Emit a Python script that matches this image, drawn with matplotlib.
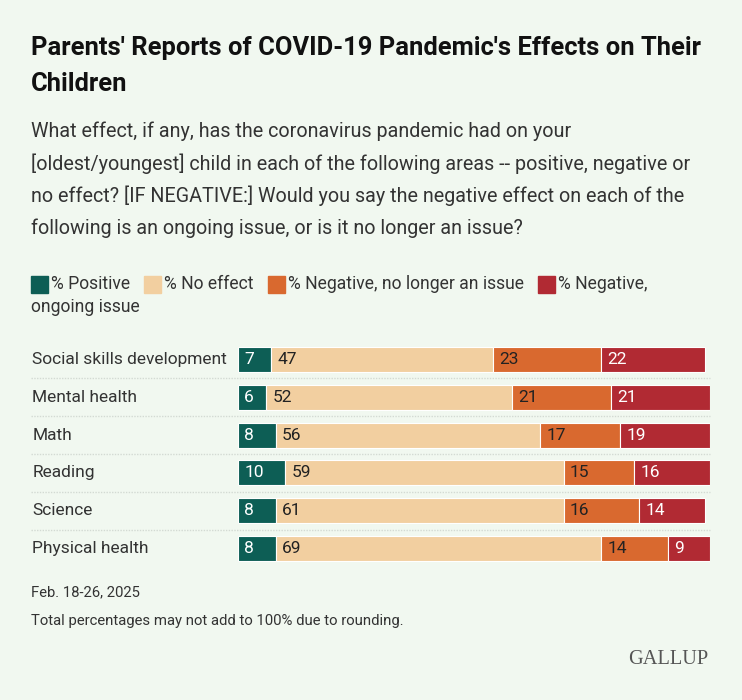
import matplotlib
matplotlib.use("Agg")
import matplotlib.pyplot as plt
from matplotlib.patches import Rectangle

# data
categories = ["Social skills development", "Mental health", "Math",
              "Reading", "Science", "Physical health"]
positive = [7, 6, 8, 10, 8, 8]
no_effect = [47, 52, 56, 59, 61, 69]
neg_past = [23, 21, 17, 15, 16, 14]
neg_ongoing = [22, 21, 19, 16, 14, 9]

series = [positive, no_effect, neg_past, neg_ongoing]
series_names = ["% Positive", "% No effect", "% Negative, no longer an issue",
                "% Negative,"]
colors = ["#0d5e55", "#f2cfa0", "#d9692f", "#b12a33"]
text_colors = ["white", "#222222", "#222222", "white"]

BG = "#f1f8f0"
W, H = 742, 700
plt.rcParams['font.family'] = ['Roboto', 'DejaVu Sans']

fig = plt.figure(figsize=(W / 100, H / 100), dpi=100, facecolor=BG)
renderer = fig.canvas.get_renderer()


def fx(px):
    return px / W


def fy(py):
    return 1 - py / H


def fit(t, target_w):
    # scale font so the text gets the width it has in the reference
    w = t.get_window_extent(renderer).width
    t.set_fontsize(t.get_fontsize() * target_w / w)
    return t.get_fontsize()


# title + subtitle
t = fig.text(fx(31), fy(48), "Parents' Reports of COVID-19 Pandemic's Effects on Their",
             fontsize=18, fontweight='bold', color='#111111', va='center')
title_size = fit(t, 699 - 31)
fig.text(fx(31), fy(84), "Children", fontsize=title_size, fontweight='bold',
         color='#111111', va='center')

subtitle = ["What effect, if any, has the coronavirus pandemic had on your",
            "[oldest/youngest] child in each of the following areas -- positive, negative or",
            "no effect? [IF NEGATIVE:] Would you say the negative effect on each of the",
            "following is an ongoing issue, or is it no longer an issue?"]
t = fig.text(0, 0, subtitle[1], fontsize=14)
sub_size = fit(t, 695 - 31)
t.remove()
for i, line in enumerate(subtitle):
    fig.text(fx(31), fy(131 + i * 32.3), line, fontsize=sub_size, color='#333333',
             va='center')

# legend
t = fig.text(0, 0, series_names[2], fontsize=12)
leg_size = fit(t, 524 - 288)
t.remove()
leg_x = [31, 144, 268, 538]
for i, name in enumerate(series_names):
    x0 = leg_x[i]
    fig.patches.append(Rectangle((fx(x0), fy(293)), fx(17), 17 / H,
                                 transform=fig.transFigure, color=colors[i]))
    fig.text(fx(x0 + 20), fy(284), name, fontsize=leg_size, color='#333333',
             va='center')
fig.text(fx(31), fy(307), "ongoing issue", fontsize=leg_size, color='#333333',
         va='center')

# bars
top, bottom = 340.6, 567.4
ax = fig.add_axes([fx(238), fy(bottom), fx(710) - fx(238), (bottom - top) / H])
ax.set_facecolor(BG)
ax.set_xlim(0, 100)
ax.set_ylim(len(categories) - 0.5, -0.5)
ax.axis('off')

t = fig.text(0, 0, categories[0], fontsize=12)
lab_size = fit(t, 227 - 32)
t.remove()

ys = list(range(len(categories)))
left = [0] * len(categories)
for s, vals in enumerate(series):
    ax.barh(ys, vals, left=left, height=0.66, color=colors[s],
            edgecolor='white', linewidth=0.8)
    for i, v in enumerate(vals):
        ax.text(left[i] + 1.3, i, str(v), ha='left', va='center',
                fontsize=lab_size, color=text_colors[s])
    left = [l + v for l, v in zip(left, vals)]

for i, cat in enumerate(categories):
    ax.text(-43.6, i, cat, ha='left', va='center', fontsize=lab_size, color='#333333')
    if i < len(categories) - 1:
        ax.plot([-43.8, 100], [i + 0.5, i + 0.5], color='#d3dad3', lw=1,
                ls=(0, (1, 1)), clip_on=False)

# footer
t = fig.text(fx(31), fy(621), "Total percentages may not add to 100% due to rounding.",
             fontsize=10, color='#333333', va='center')
foot_size = fit(t, 403 - 31)
fig.text(fx(31), fy(592), "Feb. 18-26, 2025", fontsize=foot_size, color='#333333',
         va='center')
t = fig.text(fx(708), fy(660), "GALLUP", fontsize=14, color='#555555', va='center',
             ha='right', family=['Liberation Serif', 'DejaVu Serif'])
fit(t, 708 - 627)

fig.savefig("out.png", dpi=100, facecolor=BG)
